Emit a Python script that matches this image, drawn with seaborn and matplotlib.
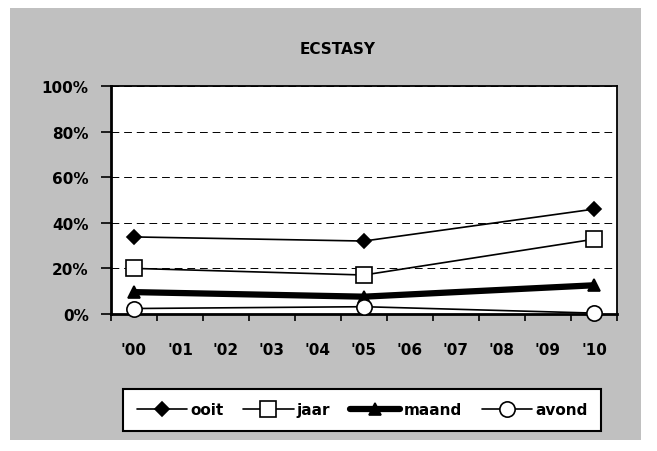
import numpy as np
import pandas as pd
import matplotlib.pyplot as plt
import seaborn as sns
from matplotlib.patches import Rectangle
from matplotlib.ticker import FixedLocator, PercentFormatter

# data
years = ["'00", "'01", "'02", "'03", "'04", "'05", "'06", "'07", "'08", "'09", "'10"]
survey_years = ["'00", "'05", "'10"]
ooit = [33.8, 32.0, 46.0]
jaar = [20.0, 17.1, 32.8]
maand = [9.6, 7.6, 12.6]
avond = [2.4, 3.2, 0.4]

series = {'ooit': ooit, 'jaar': jaar, 'maand': maand, 'avond': avond}
styles = {
    'ooit': dict(marker='D', mfc='black', ms=7, lw=1.2),
    'jaar': dict(marker='s', mfc='white', ms=11, lw=1.2),
    'maand': dict(marker='^', mfc='black', ms=9, lw=4.5),
    'avond': dict(marker='o', mfc='white', ms=11, lw=1.2),
}

rows = []
for name, vals in series.items():
    for y, v in zip(survey_years, vals):
        rows.append({'jaar_lbl': y, 'x': years.index(y), 'pct': v, 'serie': name})
df = pd.DataFrame(rows)

sns.set_style('white')
plt.rcParams['font.family'] = ['DejaVu Sans']
plt.rcParams['text.color'] = 'black'
plt.rcParams['xtick.color'] = 'black'
plt.rcParams['ytick.color'] = 'black'

fig = plt.figure(figsize=(6.57, 4.52), dpi=100)
fig.patch.set_facecolor('white')
fig.patches.append(Rectangle((10 / 657, 1 - 441 / 452), 631 / 657, 432 / 452,
                             transform=fig.transFigure, facecolor='#c0c0c0',
                             edgecolor='none', zorder=-10))

ax = fig.add_axes([111 / 657, 1 - 315 / 452, 506 / 657, 228 / 452])
ax.set_facecolor('white')

for name in series:
    st = styles[name]
    sns.lineplot(data=df[df.serie == name], x='x', y='pct', ax=ax, color='black',
                 linewidth=st['lw'], marker=st['marker'], markersize=st['ms'],
                 markerfacecolor=st['mfc'], markeredgecolor='black',
                 markeredgewidth=1.2, label=name, clip_on=False, zorder=5)

ax.set_xlim(-0.5, len(years) - 0.5)
ax.set_ylim(0, 100)
ax.set_xticks(range(len(years)))
ax.set_xticklabels(years)
ax.xaxis.set_minor_locator(FixedLocator(np.arange(-0.5, len(years), 1)))
ax.tick_params(axis='x', which='major', length=0, pad=20, labelsize=11)
ax.tick_params(axis='x', which='minor', length=5, width=1.2, direction='out', bottom=True)
ax.set_yticks(range(0, 101, 20))
ax.yaxis.set_major_formatter(PercentFormatter(decimals=0))
ax.tick_params(axis='y', length=7, width=1.2, direction='out', left=True, labelsize=11, pad=9)
for lbl in ax.get_xticklabels() + ax.get_yticklabels():
    lbl.set_fontweight('bold')

ax.yaxis.grid(True, linestyle=(0, (8, 5)), color='black', linewidth=0.7)
for s in ['left', 'bottom']:
    ax.spines[s].set_linewidth(2)
for s in ['top', 'right']:
    ax.spines[s].set_linewidth(1.3)
for s in ax.spines.values():
    s.set_color('black')
ax.set_xlabel('')
ax.set_ylabel('')

fig.text(338 / 657, 1 - 49 / 452, 'ECSTASY', ha='center', va='center',
         fontsize=11, fontweight='bold')

leg = ax.legend(loc='center', bbox_to_anchor=(362 / 657, 1 - 411 / 452),
                bbox_transform=fig.transFigure, ncol=4, frameon=True,
                fancybox=False, edgecolor='black', framealpha=1,
                handlelength=3.3, handletextpad=0.2, columnspacing=1.3,
                borderpad=0.9, prop={'weight': 'bold', 'size': 11})
leg.get_frame().set_linewidth(1.5)

ax.set_axisbelow(True)
fig.savefig('out.png', dpi=100)
